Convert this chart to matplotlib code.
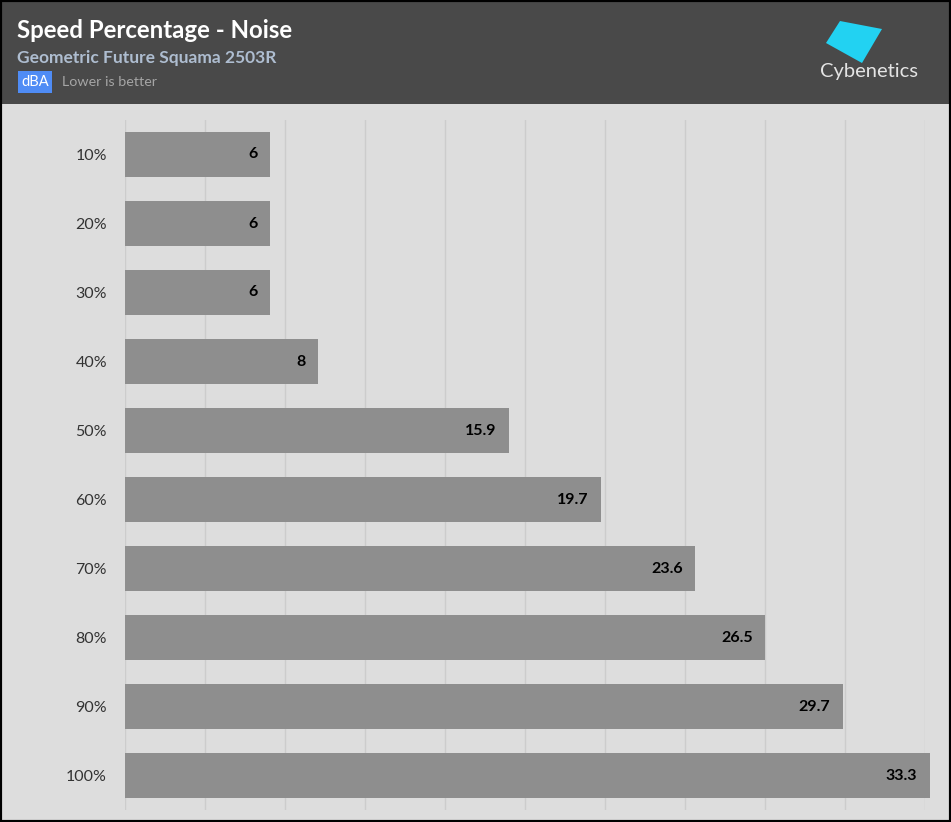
import matplotlib
matplotlib.use("Agg")
import matplotlib.pyplot as plt
import numpy as np
from matplotlib.patches import Rectangle, Polygon

categories = ["10%", "20%", "30%", "40%", "50%", "60%", "70%", "80%", "90%", "100%"]
values = [6, 6, 6, 8, 15.9, 19.7, 23.6, 26.5, 29.7, 33.3]
value_labels = ["6", "6", "6", "8", "15.9", "19.7", "23.6", "26.5", "29.7", "33.3"]

title = "Speed Percentage - Noise"
subtitle = "Geometric Future Squama 2503R"
unit = "dBA"
note = "Lower is better"

W, H = 951, 822
fig = plt.figure(figsize=(W / 100, H / 100), dpi=100)
fig.patch.set_facecolor("#dddddd")
FONT = "Lato"

def fx(px):
    return px / W

def fy(py):
    return 1 - py / H

# header
fig.patches.append(Rectangle((0, fy(104)), 1, 104 / H, transform=fig.transFigure,
                             facecolor="#494949", edgecolor="none", zorder=0))
fig.text(fx(17), fy(30), title, color="white", fontsize=17.3, fontweight="bold",
         family=FONT, va="center", ha="left")
fig.text(fx(17), fy(58), subtitle, color="#aebdd0", fontsize=12.5, fontweight="bold",
         family=FONT, va="center", ha="left")
fig.text(fx(35), fy(82), unit, color="white", fontsize=10.5, family=FONT,
         va="center", ha="center",
         bbox=dict(boxstyle="square,pad=0.25", facecolor="#4f8cf5", edgecolor="none"))
fig.text(fx(62), fy(82), note, color="#a5a5a5", fontsize=10.3, family=FONT,
         va="center", ha="left")

# logo
pts = [(840, 21), (882, 29), (862, 63), (826, 43)]
fig.patches.append(Polygon([(fx(x), fy(y)) for x, y in pts], closed=True,
                           transform=fig.transFigure, facecolor="#22d2f2",
                           edgecolor="none", zorder=1))
fig.text(fx(869), fy(72), "Cybenetics", color="#e4e4e4", fontsize=14.5,
         family=FONT, fontweight="normal", va="center", ha="center")

# axes
ax = fig.add_axes([fx(125), 1 - 810 / H, 800 / W, 690 / H])
ax.set_facecolor("#dddddd")
xmax = 33.1
ypos = np.arange(len(categories))
ax.barh(ypos, values, height=0.65, color="#8e8e8e", zorder=2, clip_on=False)
ax.set_xlim(0, xmax)
ax.set_ylim(len(categories) - 0.5, -0.5)
ax.set_xticks(np.linspace(0, xmax, 11))
ax.xaxis.grid(True, color="#cccccc", linewidth=1, zorder=0)
ax.set_xticklabels([])
ax.tick_params(axis="x", length=0)
ax.set_yticks(ypos)
ax.set_yticklabels(categories, fontsize=11.5, color="#333333", family=FONT)
ax.tick_params(axis="y", length=0, pad=13)
for s in ax.spines.values():
    s.set_visible(False)

for y, v, lab in zip(ypos, values, value_labels):
    ax.annotate(lab, (v, y), xytext=(-9, 0), textcoords="offset points",
                ha="right", va="center", fontsize=11.5, fontweight="bold",
                color="black", family=FONT, zorder=3, annotation_clip=False)

# border
fig.patches.append(Rectangle((0, 0), 1, 1, transform=fig.transFigure, facecolor="none",
                             edgecolor="black", linewidth=3, zorder=10))

fig.savefig("out.png", dpi=100)
